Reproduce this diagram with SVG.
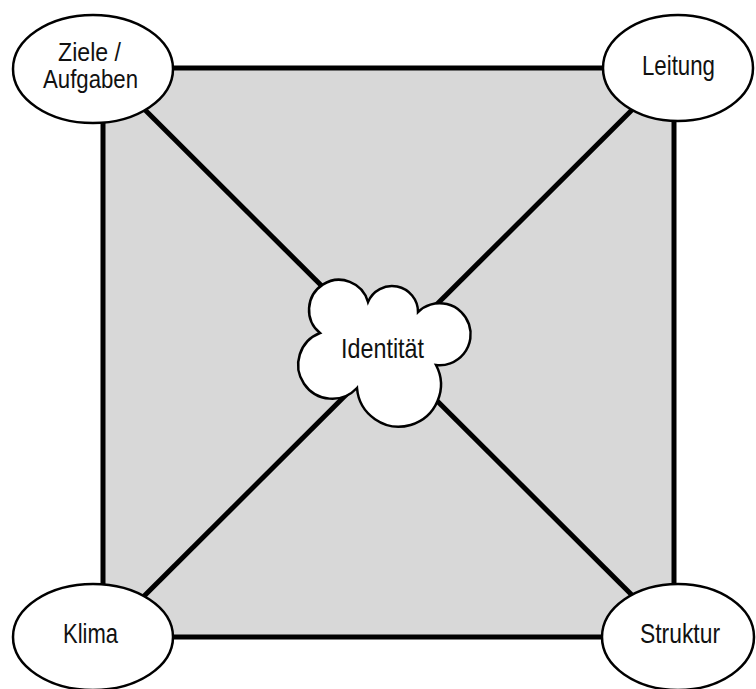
<svg xmlns="http://www.w3.org/2000/svg" width="756" height="689" viewBox="0 0 756 689">
  <style>
    .lbl { font-family: "Liberation Sans", Arial, sans-serif; font-size: 28px; fill: #111; }
    .small { font-size: 26px; }
    .node { fill: #ffffff; stroke: #000; stroke-width: 2.5; }
    .edge { stroke: #000; stroke-width: 5; fill: none; }
  </style>
  <rect width="756" height="689" fill="#ffffff"/>
  <g id="frame">
    <rect x="103" y="68" width="571" height="569" fill="#d8d8d8" stroke="#000" stroke-width="5"/>
  </g>
  <g id="connectors">
    <line class="edge" x1="103" y1="68" x2="674" y2="637"/>
    <line class="edge" x1="674" y1="68" x2="103" y2="637"/>
  </g>
  <g id="ziele">
    <ellipse class="node" cx="93" cy="69" rx="80" ry="54"/>
    <text class="lbl small" x="58" y="61" textLength="63" lengthAdjust="spacingAndGlyphs">Ziele /</text>
    <text class="lbl small" x="43" y="88" textLength="95" lengthAdjust="spacingAndGlyphs">Aufgaben</text>
  </g>
  <g id="leitung">
    <ellipse class="node" cx="678" cy="68" rx="75" ry="53"/>
    <text class="lbl" x="642" y="75" textLength="73" lengthAdjust="spacingAndGlyphs">Leitung</text>
  </g>
  <g id="klima">
    <ellipse class="node" cx="93" cy="637" rx="80" ry="53"/>
    <text class="lbl" x="63" y="643" textLength="55" lengthAdjust="spacingAndGlyphs">Klima</text>
  </g>
  <g id="struktur">
    <ellipse class="node" cx="678" cy="637" rx="76" ry="53"/>
    <text class="lbl" x="640" y="643" textLength="80" lengthAdjust="spacingAndGlyphs">Struktur</text>
  </g>
  <g id="identitaet">
    <path class="node" stroke-width="3" d="M320,333 A30,30 0 1 1 368,302 A26,26 0 0 1 418,312 A31,31 0 1 1 436,365 A42,42 0 1 1 357,388 A34,34 0 1 1 320,333 Z"/>
    <text class="lbl" x="341" y="358" textLength="83" lengthAdjust="spacingAndGlyphs">Identität</text>
  </g>
</svg>
